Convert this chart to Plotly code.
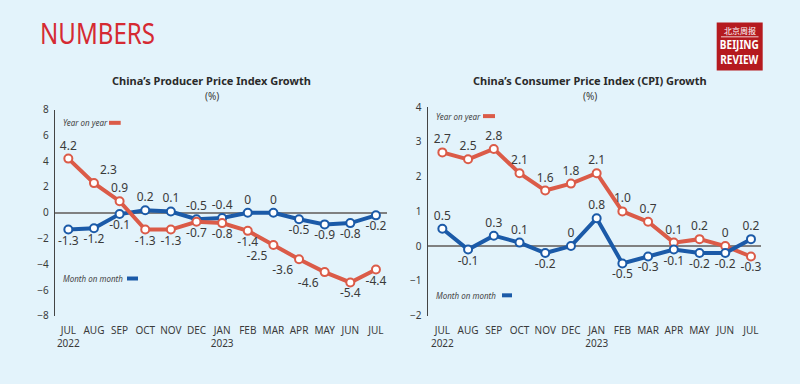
import plotly.graph_objects as go

months = ["JUL<br>2022", "AUG", "SEP", "OCT", "NOV", "DEC", "JAN<br>2023",
          "FEB", "MAR", "APR", "MAY", "JUN", "JUL"]

ppi_yoy = [4.2, 2.3, 0.9, -1.3, -1.3, -0.7, -0.8, -1.4, -2.5, -3.6, -4.6, -5.4, -4.4]
ppi_mom = [-1.3, -1.2, -0.1, 0.2, 0.1, -0.5, -0.4, 0, 0, -0.5, -0.9, -0.8, -0.2]
cpi_yoy = [2.7, 2.5, 2.8, 2.1, 1.6, 1.8, 2.1, 1.0, 0.7, 0.1, 0.2, 0, -0.3]
cpi_mom = [0.5, -0.1, 0.3, 0.1, -0.2, 0, 0.8, -0.5, -0.3, -0.1, -0.2, -0.2, 0.2]

ppi_yoy_txt = ["4.2", "2.3", "0.9", "-1.3", "-1.3", "-0.7", "-0.8", "-1.4", "-2.5", "-3.6", "-4.6", "-5.4", "-4.4"]
ppi_mom_txt = ["-1.3", "-1.2", "-0.1", "0.2", "0.1", "-0.5", "-0.4", "0", "0", "-0.5", "-0.9", "-0.8", "-0.2"]
cpi_yoy_txt = ["2.7", "2.5", "2.8", "2.1", "1.6", "1.8", "2.1", "1.0", "0.7", "0.1", "0.2", "0", "-0.3"]
cpi_mom_txt = ["0.5", "-0.1", "0.3", "0.1", "-0.2", "0", "0.8", "-0.5", "-0.3", "-0.1", "-0.2", "-0.2", "0.2"]

T, B = "top center", "bottom center"
ppi_yoy_pos = [T, "top right", T, B, B, B, B, B, "bottom left", "bottom left", "bottom left", B, B]
ppi_mom_pos = [B, B, B, T, T, T, T, T, T, B, B, B, B]
cpi_yoy_pos = [T] * 12 + [B]
cpi_mom_pos = [T, B, T, T, B, T, T, B, B, B, B, B, T]

RED = "#db5b48"
BLUE = "#1b5aa8"
BG = "#e3f3fb"
TXT = "#3a3a3a"
FONT = "Noto Sans, Open Sans, sans-serif"

xs = list(range(len(months)))

fig = go.Figure()


def add_series(y, txt, pos, color, xa, ya):
    fig.add_trace(go.Scatter(
        x=xs, y=y, mode="lines+markers+text", text=txt, textposition=pos,
        textfont=dict(family=FONT, size=12, color=TXT),
        line=dict(color=color, width=4),
        marker=dict(size=8, color="white", line=dict(color=color, width=2)),
        xaxis=xa, yaxis=ya, showlegend=False, cliponaxis=False, hoverinfo="skip"))


add_series(ppi_mom, ppi_mom_txt, ppi_mom_pos, BLUE, "x", "y")
add_series(ppi_yoy, ppi_yoy_txt, ppi_yoy_pos, RED, "x", "y")
add_series(cpi_yoy, cpi_yoy_txt, cpi_yoy_pos, RED, "x2", "y2")
add_series(cpi_mom, cpi_mom_txt, cpi_mom_pos, BLUE, "x2", "y2")

W, H = 800, 384


def px(x):
    return x / W


def py(y):
    return 1 - y / H


xcommon = dict(tickvals=xs, ticktext=months, showgrid=False, zeroline=False,
               showline=False, ticks="", ticklabelstandoff=7,
               tickfont=dict(family=FONT, size=10, color=TXT), fixedrange=True)
ycommon = dict(showgrid=False, zeroline=True, zerolinecolor="#808080", zerolinewidth=1.6,
               showline=True, linecolor="#444444", linewidth=1.4, ticks="",
               ticklabelstandoff=3,
               tickfont=dict(family=FONT, size=10, color=TXT), fixedrange=True)

fig.update_layout(
    width=W, height=H, autosize=False,
    margin=dict(l=0, r=0, t=0, b=0),
    paper_bgcolor=BG, plot_bgcolor=BG,
    xaxis=dict(domain=[px(55), px(386.7)], range=[-0.52, 12.42], anchor="y", **xcommon),
    yaxis=dict(domain=[py(320.5), py(105.7)], range=[-8, 8], tickvals=list(range(-8, 9, 2)),
               anchor="x", **ycommon),
    xaxis2=dict(domain=[px(427.7), px(761)], range=[-0.57, 12.39], anchor="y2", **xcommon),
    yaxis2=dict(domain=[py(320), py(103.3)], range=[-2, 4], tickvals=list(range(-2, 5)),
                anchor="x2", **ycommon),
)

ann = []
shapes = []

# header
ann.append(dict(text="NUMBERS", x=px(38), y=py(26), xref="paper", yref="paper",
                xanchor="left", yanchor="middle", showarrow=False,
                font=dict(family=FONT, size=29, color="#d52a32")))

# logo
shapes.append(dict(type="rect", xref="paper", yref="paper", x0=px(716.7), x1=px(762.7),
                   y0=py(65), y1=py(15), fillcolor="#b51a1f", line=dict(width=0)))
shapes.append(dict(type="line", xref="paper", yref="paper", x0=px(721), x1=px(758.5),
                   y0=py(30), y1=py(30), line=dict(color="white", width=0.8)))
ann.append(dict(text="北京周报", x=px(739.7), y=py(23), xref="paper", yref="paper",
                xanchor="center", yanchor="middle", showarrow=False,
                font=dict(family="Noto Sans CJK SC", size=8, color="white")))
ann.append(dict(text="<b>BEIJING</b><br><b>REVIEW</b>", x=px(739.7), y=py(45.5),
                xref="paper", yref="paper", xanchor="center", yanchor="middle",
                showarrow=False, font=dict(family=FONT, size=11, color="white")))

# chart titles
for t, cx in (("China’s Producer Price Index Growth", 211.7),
              ("China’s Consumer Price Index (CPI) Growth", 589.5)):
    ann.append(dict(text="<b>%s</b>" % t, x=px(cx), y=py(75), xref="paper", yref="paper",
                    xanchor="center", yanchor="middle", showarrow=False,
                    font=dict(family=FONT, size=11, color="#2a2a2a")))
    ann.append(dict(text="(%)", x=px(cx), y=py(92), xref="paper", yref="paper",
                    xanchor="center", yanchor="middle", showarrow=False,
                    font=dict(family=FONT, size=10, color=TXT)))

# legends
legends = [("Year on year", 60.7, 119.5, 109, 120.7, RED),
           ("Month on month", 60.7, 281.5, 127, 138, BLUE),
           ("Year on year", 434, 112.5, 483, 495, RED),
           ("Month on month", 434, 299, 502, 512, BLUE)]
for t, tx, ty, d0, d1, c in legends:
    ann.append(dict(text="<i>%s</i>" % t, x=px(tx), y=py(ty), xref="paper", yref="paper",
                    xanchor="left", yanchor="middle", showarrow=False,
                    font=dict(family=FONT, size=8, color="#444444")))
    shapes.append(dict(type="line", xref="paper", yref="paper", x0=px(d0), x1=px(d1),
                       y0=py(ty), y1=py(ty), line=dict(color=c, width=4)))

fig.update_layout(annotations=ann, shapes=shapes)

squeeze_js = """
document.body.style.margin='0';
document.body.style.background='%s';
document.body.style.overflow='hidden';
var targets = {'NUMBERS': [115, 'left', 1.0], 'BEIJINGREVIEW': [39, 'center', 1.05]};
document.querySelectorAll('text.annotation-text').forEach(function(el){
  var t = targets[el.textContent];
  if(!t) return;
  var bb = el.getBBox();
  var s = t[0] / bb.width;
  var ox = t[1] === 'left' ? bb.x : bb.x + bb.width / 2;
  var oy = bb.y + bb.height / 2;
  el.setAttribute('transform', 'translate(' + ox + ',' + oy + ') scale(' + s + ',' + t[2] + ') translate(' + (-ox) + ',' + (-oy) + ')');
});
""" % BG

fig.write_html("out.html", config={"displayModeBar": False}, post_script=squeeze_js)
